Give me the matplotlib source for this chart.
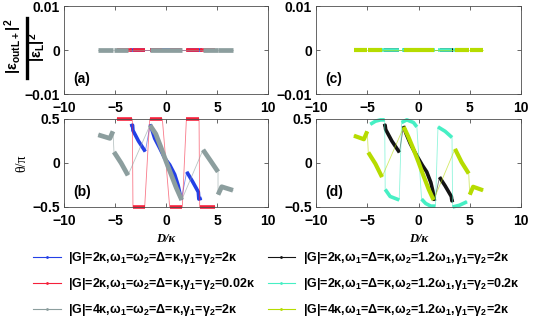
import numpy as np
import matplotlib
matplotlib.use("Agg")
import matplotlib.pyplot as plt
from matplotlib.lines import Line2D

plt.rcParams.update({"font.family": "Liberation Sans", "font.weight": "bold", "font.size": 10,
    "mathtext.fontset": "custom", "mathtext.rm": "Liberation Sans:bold",
    "mathtext.bf": "Liberation Sans:bold", "mathtext.default": "rm",
    "axes.linewidth": 0.6, "axes.edgecolor": "0.3"})

# each series: dense branches of (D/kappa, theta/pi); consecutive branches joined by a thin jump line
# omega1 = omega2 cases, panels (a)/(b)
blue_segs = [([-3.5, -3.28, -3.24, -2.7, -2.03], [0.42, 0.43, 0.37, 0.25, 0.13]),
             ([-1.55, -1.11, -0.62, -0.13, 0.36, 0.85, 1.18, 1.5], [0.44, 0.28, 0.17, 0.055, -0.02, -0.13, -0.25, -0.42]),
             ([2.03, 2.6, 3.17, 3.22, 3.5], [-0.1, -0.21, -0.33, -0.41, -0.4])]
red_segs = [([-4.8, -3.3], [0.5, 0.5]), ([-3.24, -2.09], [-0.5, -0.5]),
            ([-1.6, -0.36], [0.5, 0.5]), ([0.36, 1.6], [-0.5, -0.5]),
            ([2.0, 3.24], [0.5, 0.5]), ([3.3, 4.8], [-0.5, -0.5])]
gray_segs = [([-6.64, -5.5, -5.2], [0.32, 0.28, 0.36]),
             ([-5.1, -4.4, -3.73], [0.125, 0.0, -0.14]),
             ([-1.57, -1.0, -0.5, 0.0, 0.5, 1.0, 1.54], [0.43, 0.33, 0.18, 0.02, -0.13, -0.28, -0.42]),
             ([3.63, 4.4, 5.1], [0.15, 0.02, -0.1]),
             ([5.1, 5.46, 6.57], [-0.36, -0.27, -0.31])]
# omega2 = 1.2 omega1 cases, panels (c)/(d)
black_segs = [([-3.4, -3.26, -3.2, -2.6, -1.86], [0.42, 0.43, 0.38, 0.25, 0.12]),
              ([-1.47, -1.2, -0.8, -0.4, 0.0, 0.4, 0.8, 1.2, 1.4, 1.56],
               [0.42, 0.33, 0.22, 0.13, 0.05, -0.03, -0.1, -0.22, -0.32, -0.43]),
              ([2.05, 2.6, 3.2, 3.26, 3.4], [-0.16, -0.26, -0.38, -0.43, -0.42])]
cyan_segs = [([-4.7, -4.2, -3.7, -3.3], [0.44, 0.475, 0.49, 0.49]),
             ([-3.25, -2.77, -1.88], [-0.3, -0.38, -0.42]),
             ([-1.65, -1.14, -0.49, -0.16], [0.46, 0.49, 0.46, 0.41]),
             ([0.3, 0.7, 1.2, 1.65], [-0.41, -0.46, -0.49, -0.49]),
             ([1.9, 2.6, 3.27], [0.41, 0.36, 0.29]),
             ([3.33, 4.0, 4.73], [-0.5, -0.48, -0.44])]
yell_segs = [([-6.3, -5.33, -5.0], [0.31, 0.27, 0.36]),
             ([-4.9, -4.2, -3.56], [0.12, -0.01, -0.16]),
             ([-1.44, -1.0, -0.5, 0.0, 0.5, 1.0, 1.47], [0.41, 0.3, 0.16, 0.01, -0.15, -0.3, -0.42]),
             ([3.56, 4.2, 4.9], [0.16, 0.01, -0.12]),
             ([5.0, 5.33, 6.3], [-0.36, -0.27, -0.31])]

labels_l = ["|G|=2κ,ω$_1$=ω$_2$=Δ=κ,γ$_1$=γ$_2$=2κ",
            "|G|=2κ,ω$_1$=ω$_2$=Δ=κ,γ$_1$=γ$_2$=0.02κ",
            "|G|=4κ,ω$_1$=ω$_2$=Δ=κ,γ$_1$=γ$_2$=2κ"]
labels_r = ["|G|=2κ,ω$_1$=Δ=κ,ω$_2$=1.2ω$_1$,γ$_1$=γ$_2$=2κ",
            "|G|=2κ,ω$_1$=Δ=κ,ω$_2$=1.2ω$_1$,γ$_1$=γ$_2$=0.2κ",
            "|G|=4κ,ω$_1$=Δ=κ,ω$_2$=1.2ω$_1$,γ$_1$=γ$_2$=2κ"]

C_BLUE, C_RED, C_GRAY = "#2440e6", "#f5203a", "#8c9e9e"
C_BLACK, C_CYAN, C_YELL = "#141414", "#46efc4", "#b6dc00"


def draw(ax, segs, color, lw, flat=False):
    xs = np.concatenate([s[0] for s in segs])
    ys = np.concatenate([s[1] for s in segs])
    if flat:
        ys = np.zeros_like(xs)
    ax.plot(xs, ys, color=color, lw=0.6, alpha=0.6, clip_on=False)
    for sx, sy in segs:
        sy = np.zeros(len(sx)) if flat else sy
        ax.plot(sx, sy, color=color, lw=lw, solid_capstyle="butt", clip_on=False)


fig = plt.figure(figsize=(5.45, 3.21), dpi=100)
W, H = 545, 321
def box(l, t, r, b): return [l / W, 1 - b / H, (r - l) / W, (b - t) / H]
axa = fig.add_axes(box(64, 6, 268, 94))
axc = fig.add_axes(box(316, 6, 521, 94))
axb = fig.add_axes(box(64, 119, 268, 207))
axd = fig.add_axes(box(316, 119, 521, 207))

for ax, flat in [(axa, True), (axb, False)]:
    draw(ax, blue_segs, C_BLUE, 2.6, flat)
    draw(ax, red_segs, C_RED, 2.6, flat)
    draw(ax, gray_segs, C_GRAY, 3.4, flat)
for ax, flat in [(axc, True), (axd, False)]:
    draw(ax, black_segs, C_BLACK, 2.6, flat)
    draw(ax, cyan_segs, C_CYAN, 2.6, flat)
    draw(ax, yell_segs, C_YELL, 3.0, flat)

for ax in (axa, axc):
    ax.set_ylim(-0.01, 0.01); ax.set_yticks([-0.01, 0, 0.01])
    ax.set_yticklabels(["\u22120.01", "0", "0.01"])
for ax in (axb, axd):
    ax.set_ylim(-0.5, 0.5); ax.set_yticks([-0.5, 0, 0.5])
    ax.set_yticklabels(["\u22120.5", "0", "0.5"])
    ax.set_xlabel("D/κ", family="Liberation Serif", weight="bold", style="italic", fontsize=9)
    ax.xaxis.set_label_coords(0.5, -0.36)
    ax.xaxis.label.set_verticalalignment("center")
for ax, lab in zip((axa, axb, axc, axd), "abcd"):
    ax.set_xlim(-10, 10); ax.set_xticks([-10, -5, 0, 5, 10])
    ax.tick_params(direction="in", top=True, right=True, length=3, width=0.6, color="0.3")
    ax.tick_params(axis="x", pad=5); ax.tick_params(axis="y", pad=3)
    ax.text(0.045, 0.17, f"({lab})", transform=ax.transAxes, fontsize=10, va="center")

axb.set_ylabel("θ/π", family="Liberation Serif", weight="normal", fontsize=10, labelpad=3)

# stacked-fraction y label of panel (a)
fig.text(13 / W, 1 - 46 / H, "|ε$_{outL+}$|$^2$", rotation=90, ha="center", va="center", fontsize=10.5)
fig.text(37 / W, 1 - 47 / H, "|ε$_L$|$^2$", rotation=90, ha="center", va="center", fontsize=10.5)
fig.add_artist(Line2D([27 / W, 27 / W], [1 - 18 / H, 1 - 78 / H], color="k", lw=2.4))

hs = [Line2D([], [], color=c, lw=0.8, marker=".", markersize=2) for c in
      (C_BLUE, C_RED, C_GRAY, C_BLACK, C_CYAN, C_YELL)]
fig.legend(hs, labels_l + labels_r, ncol=2, loc="upper left", bbox_to_anchor=(33 / W, 1 - 250 / H),
           frameon=False, fontsize=9, handlelength=2.2, handletextpad=0.6, columnspacing=1.0,
           labelspacing=0.8, borderpad=0, borderaxespad=0, numpoints=1)

fig.savefig("out.png", dpi=100)
